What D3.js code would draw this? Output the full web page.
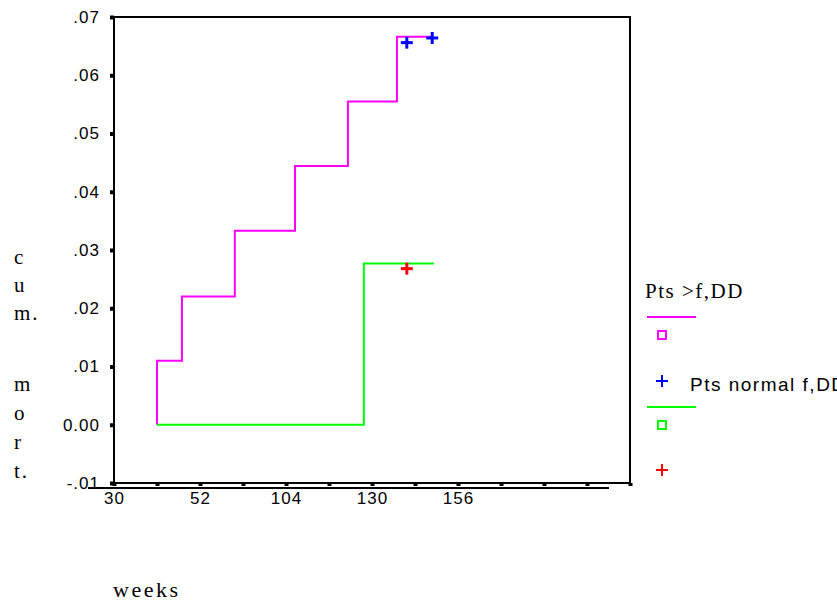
<!DOCTYPE html>
<html>
<head>
<meta charset="utf-8">
<script src="https://cdn.jsdelivr.net/npm/d3@7"></script>
<style>
  body { margin: 0; background: #fff; }
  svg { display: block; }
</style>
</head>
<body>
<div id="chart"></div>
<script>
// x is in axis steps (one step per tick), y is cumulative mortality
const xTicks = [0, 1, 2, 3, 4, 5, 6, 7, 8, 9, 10, 11, 12];
const xTickLabels = ["30", "", "52", "", "104", "", "130", "", "156", "", "", "", ""];
const yTicks = [0.07, 0.06, 0.05, 0.04, 0.03, 0.02, 0.01, 0, -0.01];
const yTickLabels = [".07", ".06", ".05", ".04", ".03", ".02", ".01", "0.00", "-.01"];

const highX = [1, 1, 1.58, 2.81, 4.21, 5.44, 6.58, 7.42];
const highY = [0, 0.011, 0.022, 0.0333, 0.0444, 0.0555, 0.0666, 0.0666];
const normalX = [1, 5.81, 7.44];
const normalY = [0, 0.0277, 0.0277];

const highCensX = [6.81, 7.40];
const highCensY = [0.0656, 0.0664];
const normalCensX = [6.81];
const normalCensY = [0.0268];

const seriesNames = ["Pts >f,DD", "Pts normal f,DD"];

const width = 837, height = 601;
const margin = { top: 17, right: 207, bottom: 118, left: 114 };
const innerW = width - margin.left - margin.right;
const innerH = height - margin.top - margin.bottom;

const svg = d3.select("#chart").append("svg")
  .attr("width", width)
  .attr("height", height);

const g = svg.append("g")
  .attr("transform", "translate(" + margin.left + "," + margin.top + ")");

const x = d3.scaleLinear().domain([0, 12]).range([0, innerW]);
const y = d3.scaleLinear().domain([-0.01, 0.07]).range([innerH, 0]);

// frame
g.append("rect")
  .attr("width", innerW).attr("height", innerH)
  .attr("fill", "none").attr("stroke", "#000").attr("stroke-width", 2);

// y axis
const yAxis = g.append("g")
  .call(d3.axisLeft(y).tickValues(yTicks).tickSize(0).tickPadding(14)
    .tickFormat((d, i) => yTickLabels[i]));
yAxis.select(".domain").remove();
yAxis.selectAll(".tick text")
  .attr("font-family", "Arial, 'Liberation Sans', sans-serif")
  .attr("font-size", 17).attr("letter-spacing", 1).attr("fill", "#000");
yAxis.selectAll(".tick").append("rect")
  .attr("x", -4).attr("y", -2).attr("width", 4).attr("height", 4).attr("fill", "#000");

// x axis
const xAxis = g.append("g")
  .attr("transform", "translate(0," + innerH + ")")
  .call(d3.axisBottom(x).tickValues(xTicks).tickSize(0).tickPadding(9)
    .tickFormat((d, i) => xTickLabels[i]));
xAxis.select(".domain").remove();
xAxis.selectAll(".tick text")
  .attr("font-family", "Arial, 'Liberation Sans', sans-serif")
  .attr("font-size", 17).attr("letter-spacing", 1).attr("fill", "#000");
xAxis.selectAll(".tick").append("rect")
  .attr("x", -2).attr("y", 0).attr("width", 4).attr("height", 3).attr("fill", "#000");
xAxis.append("line")
  .attr("x1", -26).attr("x2", x(11.5) + 0.5)
  .attr("y1", 5).attr("y2", 5)
  .attr("stroke", "#000").attr("stroke-width", 2);

// step curves
const step = d3.line()
  .x(d => x(d[0]))
  .y(d => y(d[1]))
  .curve(d3.curveStepAfter);

g.append("path")
  .datum(d3.zip(highX, highY))
  .attr("d", step)
  .attr("fill", "none").attr("stroke", "#ff00ff").attr("stroke-width", 2);

g.append("path")
  .datum(d3.zip(normalX, normalY))
  .attr("d", step)
  .attr("fill", "none").attr("stroke", "#00ff00").attr("stroke-width", 2);

function plus(sel, color) {
  sel.append("line").attr("x1", -6).attr("x2", 6).attr("y1", 0).attr("y2", 0)
    .attr("stroke", color).attr("stroke-width", 3);
  sel.append("line").attr("x1", 0).attr("x2", 0).attr("y1", -6).attr("y2", 6)
    .attr("stroke", color).attr("stroke-width", 3);
}

g.selectAll(".cens-high")
  .data(d3.zip(highCensX, highCensY))
  .enter().append("g")
  .attr("class", "cens-high")
  .attr("transform", d => "translate(" + x(d[0]) + "," + y(d[1]) + ")")
  .call(plus, "#0000ff");

g.selectAll(".cens-normal")
  .data(d3.zip(normalCensX, normalCensY))
  .enter().append("g")
  .attr("class", "cens-normal")
  .attr("transform", d => "translate(" + x(d[0]) + "," + y(d[1]) + ")")
  .call(plus, "#ff0000");

// y title, one letter per line
const yTitle = [["c", 264], ["u", 292], ["m.", 320], ["m", 391], ["o", 420], ["r", 449], ["t.", 478]];
svg.selectAll(".ytitle")
  .data(yTitle)
  .enter().append("text")
  .attr("class", "ytitle")
  .attr("x", 14).attr("y", d => d[1])
  .attr("font-family", "'Liberation Serif', 'Times New Roman', serif")
  .attr("font-size", 21).attr("letter-spacing", 2)
  .text(d => d[0]);

// x title
svg.append("text")
  .attr("x", 113).attr("y", 597)
  .attr("font-family", "'Liberation Serif', 'Times New Roman', serif")
  .attr("font-size", 22).attr("letter-spacing", 2.5)
  .text("weeks");

// legend
const legend = svg.append("g");
legend.append("text")
  .attr("x", 645).attr("y", 298)
  .attr("font-family", "'Liberation Serif', 'Times New Roman', serif")
  .attr("font-size", 21).attr("letter-spacing", 1.5)
  .text(seriesNames[0]);
legend.append("line").attr("x1", 647).attr("x2", 696).attr("y1", 317).attr("y2", 317)
  .attr("stroke", "#ff00ff").attr("stroke-width", 2);
legend.append("rect").attr("x", 658).attr("y", 331).attr("width", 8).attr("height", 8)
  .attr("fill", "none").attr("stroke", "#ff00ff").attr("stroke-width", 2);
legend.append("g").attr("transform", "translate(662,381)").call(plus, "#0000ff")
  .selectAll("line").attr("stroke-width", 2);
legend.append("text")
  .attr("x", 690).attr("y", 391)
  .attr("font-family", "Arial, 'Liberation Sans', sans-serif")
  .attr("font-size", 19).attr("letter-spacing", 1.5)
  .text(seriesNames[1]);
legend.append("line").attr("x1", 647).attr("x2", 696).attr("y1", 407).attr("y2", 407)
  .attr("stroke", "#00ff00").attr("stroke-width", 2);
legend.append("rect").attr("x", 658).attr("y", 421).attr("width", 8).attr("height", 8)
  .attr("fill", "none").attr("stroke", "#00ff00").attr("stroke-width", 2);
legend.append("g").attr("transform", "translate(662,470)").call(plus, "#ff0000")
  .selectAll("line").attr("stroke-width", 2);
</script>
</body>
</html>
